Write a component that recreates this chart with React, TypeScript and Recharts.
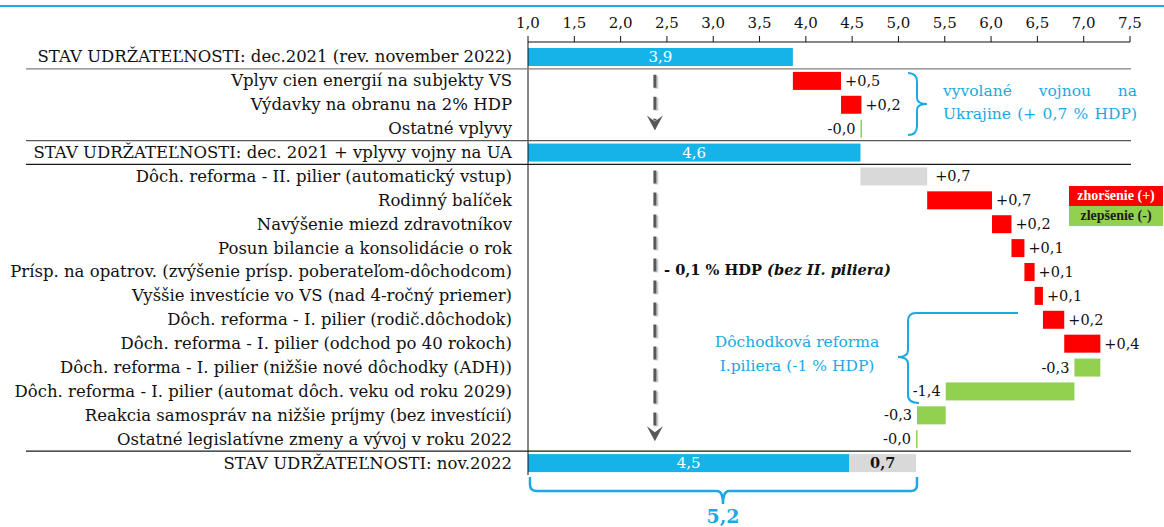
import React from 'react';
import { BarChart, Bar, XAxis, YAxis, ReferenceLine } from 'recharts';

const categories = [
  'STAV UDRŽATEĽNOSTI: dec.2021 (rev. november 2022)',
  'Vplyv cien energií na subjekty VS',
  'Výdavky na obranu na 2% HDP',
  'Ostatné vplyvy',
  'STAV UDRŽATEĽNOSTI: dec. 2021 + vplyvy vojny na UA',
  'Dôch. reforma - II. pilier (automatický vstup)',
  'Rodinný balíček',
  'Navýšenie miezd zdravotníkov',
  'Posun bilancie a konsolidácie o rok',
  'Prísp. na opatrov. (zvýšenie prísp. poberateľom-dôchodcom)',
  'Vyššie investície vo VS (nad 4-ročný priemer)',
  'Dôch. reforma - I. pilier (rodič.dôchodok)',
  'Dôch. reforma - I. pilier (odchod po 40 rokoch)',
  'Dôch. reforma - I. pilier (nižšie nové dôchodky (ADH))',
  'Dôch. reforma - I. pilier (automat dôch. veku od roku 2029)',
  'Reakcia samospráv na nižšie príjmy (bez investícií)',
  'Ostatné legislatívne zmeny a vývoj v roku 2022',
  'STAV UDRŽATEĽNOSTI: nov.2022',
];

// start = starting level, total = running level, pillar = II. pillar effect (grey)
const kinds = [
  'start', 'change', 'change', 'change', 'total', 'pillar', 'change', 'change', 'change',
  'change', 'change', 'change', 'change', 'change', 'change', 'change', 'change', 'final',
];
const changes = [
  3.86, 0.52, 0.22, -0.01, 0, 0.72, 0.7, 0.21, 0.14,
  0.11, 0.09, 0.23, 0.39, -0.28, -1.39, -0.31, -0.01, 0,
];

const xTicks = [1, 1.5, 2, 2.5, 3, 3.5, 4, 4.5, 5, 5.5, 6, 6.5, 7, 7.5];
const X_MIN = 1;
const X_MAX = 7.5;

// rows after which a separator is drawn, and its colour
const separators: Record<number, string> = { 0: '#808080', 3: '#595959', 4: '#1a1a1a', 16: '#1a1a1a' };

const BLUE = '#16b3e8';
const RED = '#ff0000';
const GREEN = '#92d050';
const GREY = '#d9d9d9';
const CYAN = '#1aa9e3';
const FONT = '"DejaVu Serif", serif';

const fmt = (v: number) => v.toFixed(1).replace('.', ',');

const pillar = changes[kinds.indexOf('pillar')];
let level = 0;
const rows = categories.map((name, i) => {
  const kind = kinds[i];
  const d = changes[i];
  if (kind === 'start') {
    level = d;
    return { name, kind, main: [X_MIN, level], text: fmt(level), color: BLUE };
  }
  if (kind === 'total') {
    return { name, kind, main: [X_MIN, level], text: fmt(level), color: BLUE };
  }
  if (kind === 'final') {
    return {
      name, kind,
      main: [X_MIN, level - pillar], text: fmt(level - pillar), color: BLUE,
      extra: [level - pillar, level], extraText: fmt(pillar),
    };
  }
  const from = level;
  level += d;
  return {
    name, kind,
    main: [Math.min(from, level), Math.max(from, level)],
    text: (d > 0 ? '+' : '') + fmt(d),
    color: kind === 'pillar' ? GREY : d > 0 ? RED : GREEN,
  };
});
const finalLevel = level;

const PLOT_TOP = 45;
const PLOT_BOTTOM = 475;
const ROW_H = (PLOT_BOTTOM - PLOT_TOP) / categories.length;

const CategoryTick = (props: any) => {
  const { x, y, payload, index } = props;
  const sep = separators[index];
  return (
    <g>
      <text x={x} y={y} dy={5.5} textAnchor="end" fontFamily={FONT} fontSize={16.5} fill="#111">
        {payload.value}
      </text>
      {sep && <line x1={26} x2={1131} y1={y + ROW_H / 2} y2={y + ROW_H / 2} stroke={sep} strokeWidth={1.3} />}
    </g>
  );
};

const MainShape = (props: any) => {
  const { x, y, width, height, payload } = props;
  if (!payload) return null;
  const w = Math.max(width, 1.5);
  const cy = y + height / 2 + 5;
  let label = null;
  if (payload.color === BLUE) {
    label = (
      <text x={x + w / 2} y={cy} textAnchor="middle" fill="#fff" fontFamily={FONT} fontSize={15}>
        {payload.text}
      </text>
    );
  } else if (payload.color === GREEN) {
    label = (
      <text x={x - 5} y={cy} textAnchor="end" fill="#111" fontFamily={FONT} fontSize={14.5}>
        {payload.text}
      </text>
    );
  } else {
    label = (
      <text x={x + w + (payload.kind === 'pillar' ? 8 : 4)} y={cy} textAnchor="start" fill="#111" fontFamily={FONT} fontSize={14.5}>
        {payload.text}
      </text>
    );
  }
  return (
    <g>
      <rect x={x} y={y} width={w} height={height} fill={payload.color} />
      {label}
    </g>
  );
};

const ExtraShape = (props: any) => {
  const { x, y, width, height, payload } = props;
  if (!payload || !payload.extra) return null;
  return (
    <g>
      <rect x={x} y={y} width={width} height={height} fill={GREY} />
      <text x={x + width / 2} y={y + height / 2 + 5} textAnchor="middle" fill="#111" fontFamily={FONT} fontSize={14.5} fontWeight="bold">
        {payload.extraText}
      </text>
    </g>
  );
};

const ArrowShape = (props: any) => {
  const { x1, y1, y2 } = props;
  const top = y1 - 6;
  const tip = y2 + 2;
  return (
    <g>
      <line x1={x1 + 1.5} x2={x1 + 1.5} y1={top + 1} y2={tip - 9} stroke="#cfcfcf" strokeWidth={4} strokeDasharray="13 9" />
      <line x1={x1} x2={x1} y1={top} y2={tip - 10} stroke="#595959" strokeWidth={3} strokeDasharray="13 9" />
      <path d={`M${x1 - 8},${tip - 15} L${x1},${tip} L${x1 + 8},${tip - 15} L${x1},${tip - 9} Z`} fill="#595959" />
    </g>
  );
};

const legendItems = [
  { label: 'zhoršenie (+)', bg: RED, color: '#fff' },
  { label: 'zlepšenie (-)', bg: GREEN, color: '#1a1a1a' },
];

const cyanText: React.CSSProperties = { position: 'absolute', color: CYAN, fontFamily: FONT, fontSize: 15.5, whiteSpace: 'nowrap' };

export default function App() {
  return (
    <div style={{ position: 'absolute', left: 0, top: 0, width: 1164, height: 527, background: '#fff' }}>
      <div style={{ position: 'absolute', left: 0, top: 5, width: 1164, height: 2, background: CYAN }} />
      <BarChart
        width={1164}
        height={527}
        data={rows}
        layout="vertical"
        margin={{ top: 12, right: 34, left: 0, bottom: 52 }}
        barGap={-18}
      >
        <XAxis
          type="number"
          orientation="top"
          domain={[X_MIN, X_MAX]}
          ticks={xTicks}
          tickFormatter={fmt}
          height={30}
          tickSize={6}
          tickMargin={8}
          axisLine={{ stroke: '#111' }}
          tickLine={{ stroke: '#111' }}
          tick={{ fill: '#111', fontSize: 15, fontFamily: FONT }}
        />
        <YAxis
          type="category"
          dataKey="name"
          width={528}
          interval={0}
          tickLine={false}
          tickSize={0}
          tickMargin={16}
          padding={{ top: 3, bottom: 0 }}
          axisLine={{ stroke: '#111' }}
          tick={<CategoryTick />}
        />
        <Bar dataKey="main" barSize={18} shape={<MainShape />} isAnimationActive={false} />
        <Bar dataKey="extra" barSize={18} shape={<ExtraShape />} isAnimationActive={false} />
        <ReferenceLine
          segment={[{ x: 2.37, y: categories[1] }, { x: 2.37, y: categories[3] }]}
          shape={<ArrowShape />}
        />
        <ReferenceLine
          segment={[{ x: 2.37, y: categories[5] }, { x: 2.37, y: categories[16] }]}
          shape={<ArrowShape />}
        />
      </BarChart>

      <div style={{ position: 'absolute', left: 1069, top: 186, width: 94, fontFamily: '"Liberation Serif", serif', fontSize: 14, fontWeight: 'bold' }}>
        {legendItems.map((it) => (
          <div key={it.label} style={{ background: it.bg, color: it.color, height: 20, lineHeight: '20px', textAlign: 'center' }}>
            {it.label}
          </div>
        ))}
      </div>

      <div style={{ position: 'absolute', left: 664, top: 261, fontFamily: FONT, fontSize: 14.6, fontWeight: 'bold', color: '#111', whiteSpace: 'nowrap' }}>
        - 0,1 % HDP <i>(bez II. piliera)</i>
      </div>

      <div style={{ ...cyanText, left: 943, top: 82, width: 194, textAlign: 'justify', textAlignLast: 'justify' }}>vyvolané vojnou na</div>
      <div style={{ ...cyanText, left: 943, top: 105, width: 194, textAlign: 'justify', textAlignLast: 'justify' }}>Ukrajine (+ 0,7 % HDP)</div>

      <div style={{ ...cyanText, left: 697, top: 333, width: 200, textAlign: 'center' }}>Dôchodková reforma</div>
      <div style={{ ...cyanText, left: 697, top: 357, width: 200, textAlign: 'center' }}>I.piliera (-1 % HDP)</div>

      <svg style={{ position: 'absolute', left: 0, top: 0, pointerEvents: 'none' }} width={1164} height={527}>
        <path d="M908,73 Q917,73 917,82 L917,98 Q917,104 927,104 Q917,104 917,110 L917,126 Q917,135 908,135" fill="none" stroke={CYAN} strokeWidth={2} />
        <path d="M1018,313 L916,313 Q908,313 908,321 L908,350 Q908,357 898,357 Q908,357 908,364 L908,395 Q908,403 919,403" fill="none" stroke={CYAN} strokeWidth={2} />
        <path d="M530,477 L530,485 Q530,491 537,491 L717,491 Q723,491 723,504 Q723,491 729,491 L911,491 Q917,491 917,485 L917,477" fill="none" stroke={CYAN} strokeWidth={2.5} />
      </svg>
      <div style={{ position: 'absolute', left: 683, top: 505, width: 80, textAlign: 'center', color: CYAN, fontFamily: FONT, fontSize: 19, fontWeight: 'bold' }}>
        {fmt(finalLevel)}
      </div>
    </div>
  );
}
